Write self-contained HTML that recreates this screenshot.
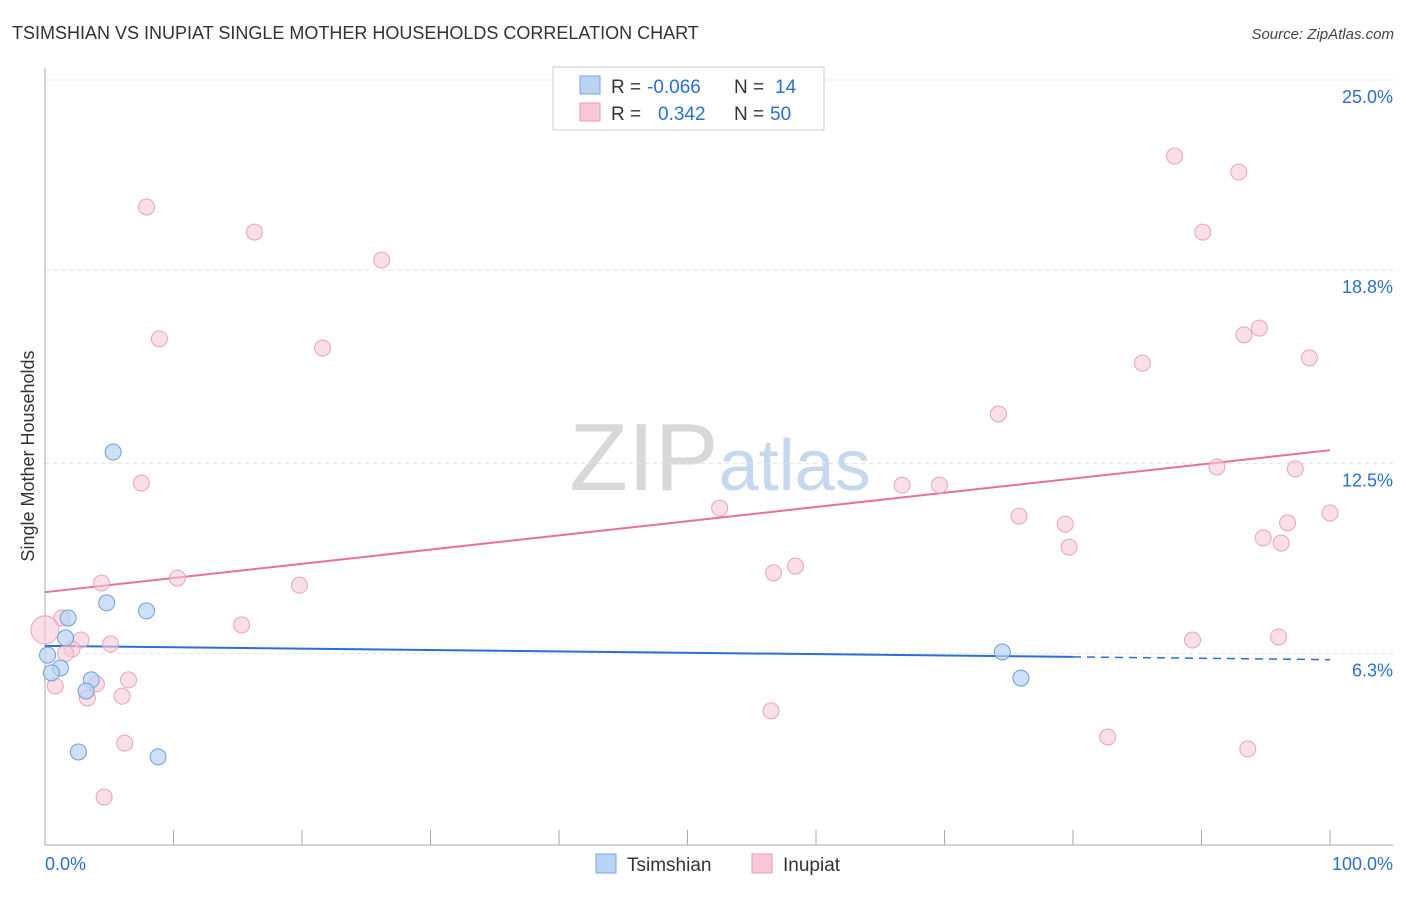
<!DOCTYPE html>
<html><head><meta charset="utf-8">
<style>
body{margin:0;background:#fff;font-family:"Liberation Sans",sans-serif;}
svg text{font-family:"Liberation Sans",sans-serif;}
</style></head>
<body>
<svg id="chart" width="1406" height="892" xmlns="http://www.w3.org/2000/svg">
<text x="12" y="39" font-size="18" fill="#333">TSIMSHIAN VS INUPIAT SINGLE MOTHER HOUSEHOLDS CORRELATION CHART</text>
<text x="1394" y="39" font-size="15" fill="#444" text-anchor="end" font-style="italic">Source: ZipAtlas.com</text>
<text x="720" y="490" font-size="96" text-anchor="middle" fill="#ddd" font-family="Liberation Serif"><tspan fill="#d8d8d8">ZIP</tspan><tspan fill="#c5d8ee" font-family="Liberation Sans" font-size="72">atlas</tspan></text>
<g id="grid"></g>
<g id="axes"></g>
<text transform="translate(34,456) rotate(-90)" font-size="18" fill="#333" text-anchor="middle">Single Mother Households</text>
<g id="trends"></g>
<g id="points"></g>
<g>
<rect x="553" y="67" width="271" height="63" fill="#fff" stroke="#ccc"/>
<rect x="580" y="76" width="20" height="18" fill="#b8d3f3" stroke="#7aa6dc"/>
<text x="611" y="93" font-size="19" fill="#333">R =</text>
<text x="647" y="93" font-size="19" fill="#2a6fd6">-0.066</text>
<text x="734" y="93" font-size="19" fill="#333">N =</text>
<text x="775" y="93" font-size="19" fill="#2a6fd6">14</text>
<rect x="580" y="103" width="20" height="18" fill="#f9c9d7" stroke="#e99ab2"/>
<text x="611" y="120" font-size="19" fill="#333">R =</text>
<text x="658" y="120" font-size="19" fill="#2a6fd6">0.342</text>
<text x="734" y="120" font-size="19" fill="#333">N =</text>
<text x="770" y="120" font-size="19" fill="#2a6fd6">50</text>
</g>
<g>
<rect x="596" y="854" width="20" height="19" fill="#b8d3f3" stroke="#7aa6dc"/>
<text x="627" y="871" font-size="19" fill="#333">Tsimshian</text>
<rect x="752" y="854" width="20" height="19" fill="#f9c9d7" stroke="#e99ab2"/>
<text x="783" y="871" font-size="19" fill="#333">Inupiat</text>
</g>
</svg>
<script>
const yTicks=[25.0,18.8,12.5,6.3];
const yTickLabels=["25.0%","18.8%","12.5%","6.3%"];
const tsX=[5.3,4.8,7.9,1.8,1.6,1.2,0.5,0.2,3.6,3.2,2.6,8.8,74.5,75.95];
const tsY=[12.87,7.95,7.69,7.46,6.81,5.83,5.67,6.25,5.44,5.08,3.09,2.93,6.35,5.5];
const inX=[87.9,92.9,7.9,16.3,90.1,26.2,8.9,21.6,93.3,94.5,85.4,98.4,74.2,7.5,91.2,97.3,66.7,69.6,52.5,75.8,79.4,100,96.7,79.7,94.8,96.2,58.4,56.7,4.4,10.3,19.8,15.3,1.3,2.8,5.1,2.1,89.3,96,0.8,4.0,6.5,3.3,6.0,56.5,6.2,82.7,93.6,4.6,0,1.6];
const inY=[22.52,22.0,20.86,20.04,20.04,19.13,16.56,16.26,16.69,16.91,15.77,15.94,14.11,11.86,12.38,12.32,11.79,11.79,11.04,10.78,10.52,10.88,10.56,9.77,10.07,9.90,9.15,8.93,8.6,8.76,8.53,7.23,7.46,6.74,6.61,6.45,6.74,6.84,5.24,5.31,5.44,4.85,4.91,4.43,3.38,3.58,3.19,1.62,7.07,6.3];
const tsTrend=[6.55,6.1];
const inTrend=[8.3,12.93];
const sx=v=>45+v*12.85, sy=v=>80+(25-v)*30.67;
const NS="http://www.w3.org/2000/svg";
function mk(tag,attrs,parent){const e=document.createElementNS(NS,tag);for(const k in attrs)e.setAttribute(k,attrs[k]);document.getElementById(parent).appendChild(e);return e;}
yTicks.forEach((t,i)=>{
 const l=mk('line',{x1:45,x2:1393,y1:sy(t),y2:sy(t),stroke:'#e2e2e2','stroke-dasharray':'4,4'},'grid');
 
 
 const tx=mk('text',{x:1393,y:sy(t)+23,'font-size':18,fill:'#2a6fd6','text-anchor':'end'},'grid');
 tx.textContent=yTickLabels[i];
 
 
});
const ax=mk('line',{x1:45,x2:1393,y1:845,y2:845,stroke:'#aaa'},'axes');


const ay=mk('line',{x1:45,x2:45,y1:68,y2:845,stroke:'#aaa'},'axes');


for(let i=1;i<=10;i++){const t=mk('line',{x1:sx(i*10),x2:sx(i*10),y1:830,y2:845,stroke:'#aaa'},'axes');
 
 }
const xl=mk('text',{x:45,y:870,'font-size':18,fill:'#2a6fd6'},'axes');xl.textContent='0.0%';


const xr=mk('text',{x:1393,y:870,'font-size':18,fill:'#2a6fd6','text-anchor':'end'},'axes');xr.textContent='100.0%';


inX.forEach((x,i)=>{const c=mk('circle',{cx:sx(x),cy:sy(inY[i]),r:i==48?14:8,fill:'#f9c9d7','fill-opacity':0.6,stroke:'#eba3b9'},'points');
 
 });
tsX.forEach((x,i)=>{const c=mk('circle',{cx:sx(x),cy:sy(tsY[i]),r:8,fill:'#b8d3f3','fill-opacity':0.7,stroke:'#6e9fd8'},'points');
 
 });
const tsAt=x=>tsTrend[0]+(tsTrend[1]-tsTrend[0])*x/100;
const l1=mk('line',{x1:sx(0),y1:sy(tsAt(0)),x2:sx(80),y2:sy(tsAt(80)),stroke:'#2a6fd6','stroke-width':2},'trends');


const l2=mk('line',{x1:sx(80),y1:sy(tsAt(80)),x2:sx(100),y2:sy(tsAt(100)),stroke:'#2a6fd6','stroke-width':1.5,'stroke-dasharray':'8,6'},'trends');


const l3=mk('line',{x1:sx(0),y1:sy(inTrend[0]),x2:sx(100),y2:sy(inTrend[1]),stroke:'#e8709a','stroke-width':2},'trends');


</script>
</body></html>
